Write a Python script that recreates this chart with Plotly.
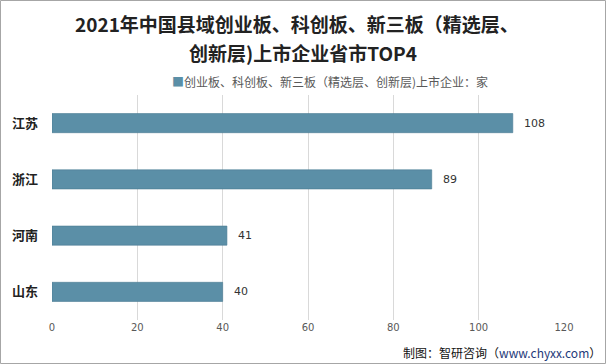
import plotly.graph_objects as go

provinces = ["江苏", "浙江", "河南", "山东"]
counts = [108, 89, 41, 40]
x_ticks = [0, 20, 40, 60, 80, 100, 120]
series_name = "创业板、科创板、新三板（精选层、创新层)上市企业：家"
title_line1 = "2021年中国县域创业板、科创板、新三板（精选层、"
title_line2 = "创新层)上市企业省市TOP4"
source_prefix = "制图：智研咨询（"
source_url = "www.chyxx.com"

bar_color = "#5B8FA7"

L, R, T, B = 52, 42, 95, 44
PW, PH = 606 - L - R, 364 - T - B


def px_x(x):
    return (x - L) / PW


def px_y(y):
    return 1 - (y - T) / PH


fig = go.Figure()
fig.add_trace(go.Bar(
    y=provinces, x=counts, orientation="h",
    name=series_name,
    marker=dict(color=bar_color, line=dict(color="#4A7A92", width=0.6)),
    width=0.34,
    showlegend=False,
))

label_annotations = [
    dict(x=c, y=p, xref="x", yref="y", text=str(c), showarrow=False,
         xanchor="left", yanchor="middle", xshift=9,
         font=dict(family="DejaVu Sans", size=11, color="#333333"))
    for p, c in zip(provinces, counts)
]

fig.update_layout(
    width=606, height=364,
    margin=dict(l=L, r=R, t=T, b=B, autoexpand=False),
    paper_bgcolor="white", plot_bgcolor="white",
    bargap=0.66,
    xaxis=dict(range=[0, 120], tickvals=x_ticks, showgrid=True, gridcolor="#D9D9D9",
               gridwidth=1, zeroline=False, showline=False, automargin=False,
               tickfont=dict(family="DejaVu Sans", size=10, color="#595959")),
    yaxis=dict(categoryorder="array", categoryarray=provinces[::-1], showgrid=False,
               showline=False, ticks="", ticklabelstandoff=13, automargin=False,
               tickfont=dict(family="Noto Sans CJK SC", size=13, color="#222222", weight="bold")),
    shapes=[dict(type="rect", xref="paper", yref="paper", x0=px_x(0.5), x1=px_x(605.5),
                 y0=px_y(363.5), y1=px_y(0.5), line=dict(color="#A6A6A6", width=1))],
    annotations=label_annotations + [
        dict(xref="paper", yref="paper", x=px_x(297), y=px_y(24), xanchor="center",
             yanchor="middle", showarrow=False, text="<b>" + title_line1 + "</b>",
             font=dict(family="Noto Sans CJK SC", size=19, color="#222222")),
        dict(xref="paper", yref="paper", x=px_x(303), y=px_y(53), xanchor="center",
             yanchor="middle", showarrow=False, text="<b>" + title_line2 + "</b>",
             font=dict(family="Noto Sans CJK SC", size=19, color="#222222")),
        dict(xref="paper", yref="paper", x=px_x(330), y=px_y(81), xanchor="center",
             yanchor="middle", showarrow=False,
             text="<span style='color:" + bar_color + "'>■</span>" + series_name,
             font=dict(family="Noto Sans CJK SC", size=12, color="#595959")),
        dict(xref="paper", yref="paper", x=px_x(603), y=px_y(352), xanchor="right",
             yanchor="middle", showarrow=False,
             text=source_prefix + "<span style='color:#1F3A7A'>" + source_url + "</span>）",
             font=dict(family="Noto Sans CJK SC", size=12, color="#111111")),
    ],
)

fig.write_html("out.html", config={"displayModeBar": False},
               post_script="document.body.style.margin='0';document.body.style.overflow='hidden';")
